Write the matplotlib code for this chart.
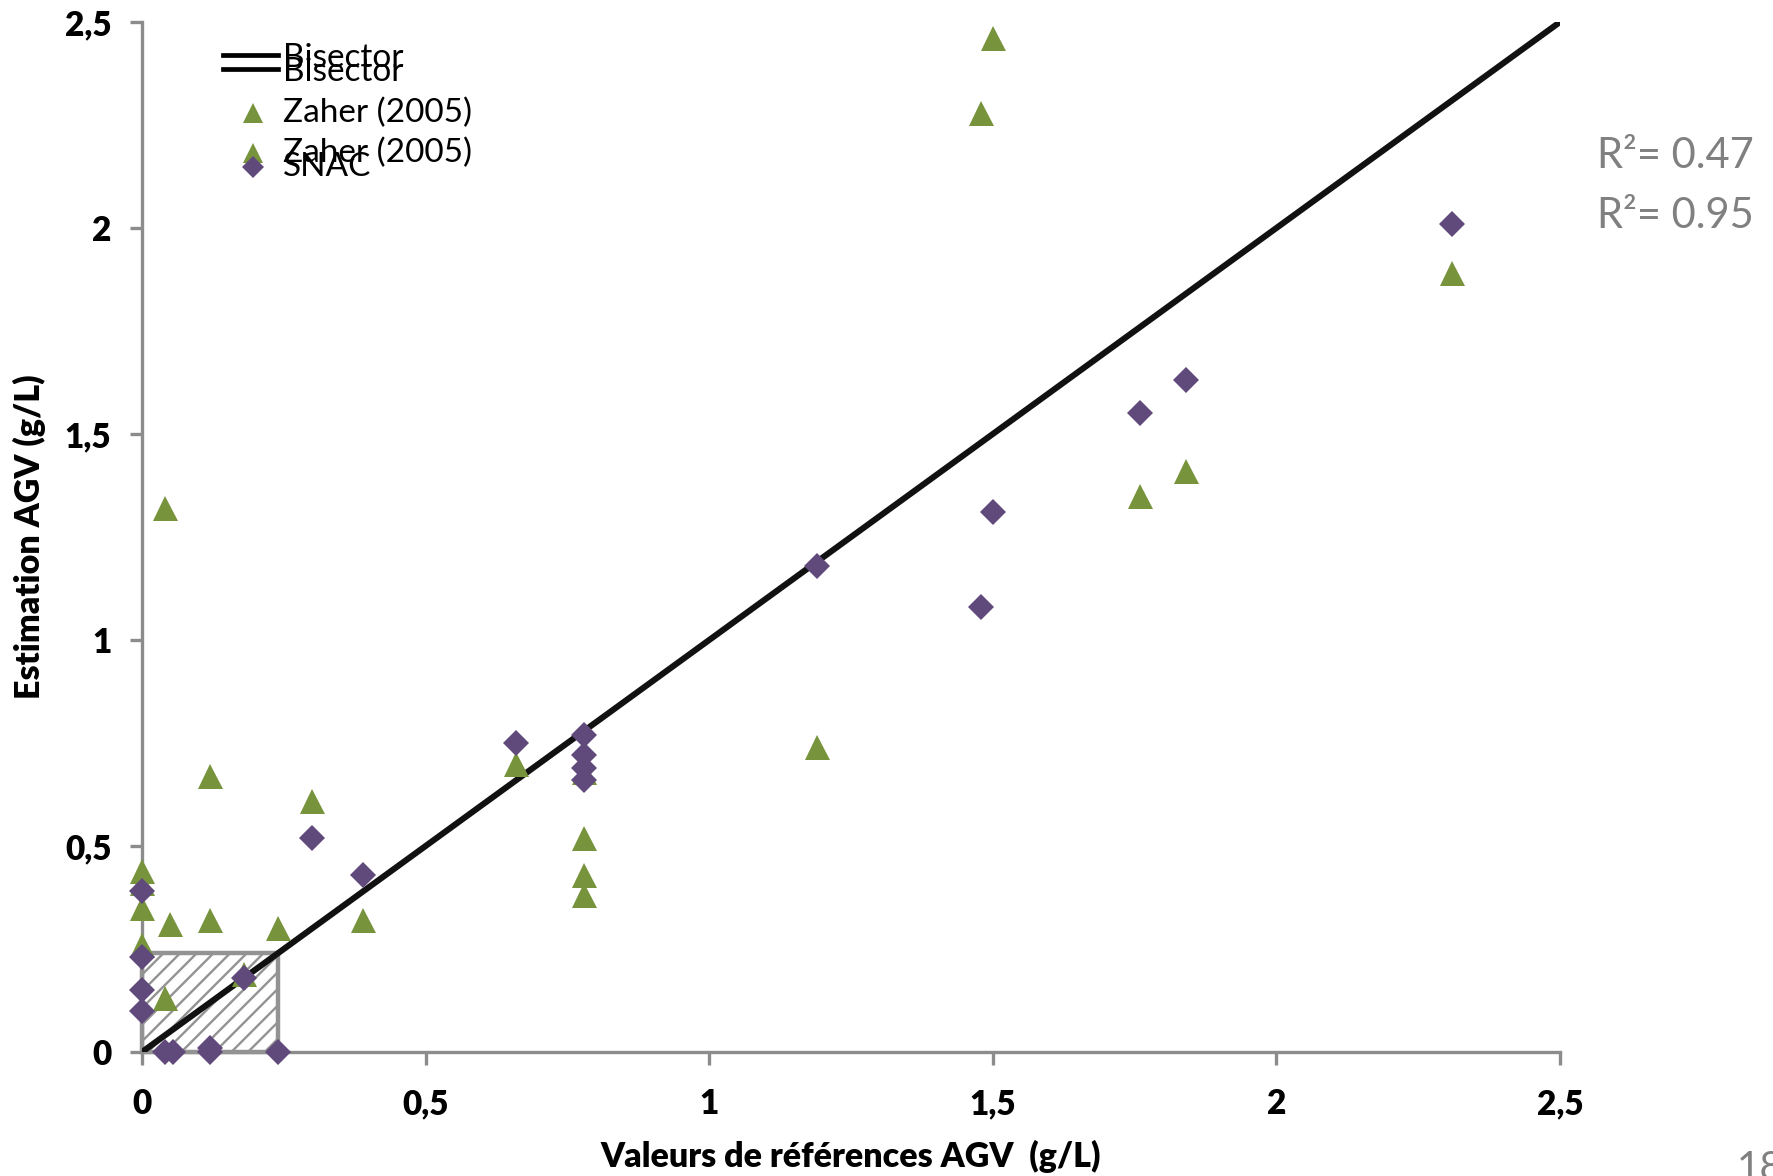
import numpy as np
import matplotlib
matplotlib.use("Agg")
import matplotlib.pyplot as plt
from matplotlib.lines import Line2D
from matplotlib.patches import Rectangle

# ── Data (g/L) ───────────────────────────────────────────────────────────────
zaher_ref = [1.50, 1.48, 2.31, 1.84, 1.76, 1.19, 0.04, 0.12, 0.30, 0.66,
             0.78, 0.78, 0.78, 0.78, 0.39, 0.12, 0.05, 0.24, 0.00, 0.00,
             0.00, 0.00, 0.04, 0.18]
zaher_est = [2.46, 2.28, 1.89, 1.41, 1.35, 0.74, 1.32, 0.67, 0.61, 0.70,
             0.68, 0.52, 0.43, 0.38, 0.32, 0.32, 0.31, 0.30, 0.44, 0.41,
             0.35, 0.26, 0.13, 0.19]

snac_ref = [2.31, 1.84, 1.76, 1.50, 1.48, 1.19, 0.66, 0.78, 0.78, 0.78,
            0.78, 0.30, 0.39, 0.00, 0.00, 0.00, 0.00, 0.18, 0.04, 0.055,
            0.12, 0.12, 0.24]
snac_est = [2.01, 1.63, 1.55, 1.31, 1.08, 1.18, 0.75, 0.77, 0.72, 0.69,
            0.66, 0.52, 0.43, 0.39, 0.23, 0.15, 0.10, 0.18, 0.00, 0.00,
            0.00, 0.01, 0.00]

bisector = [0.0, 2.5]
zone_limit = 0.24            # hatched low-concentration zone
ticks = [0, 0.5, 1, 1.5, 2, 2.5]
tick_labels = ["0", "0,5", "1", "1,5", "2", "2,5"]
r2_labels = ["R\u00b2= 0.47", "R\u00b2= 0.95"]

GREEN = "#77933C"
PURPLE = "#604A7B"
AXGRAY = "#8C8C8C"

plt.rcParams["font.family"] = ["Lato", "DejaVu Sans"]
plt.rcParams["hatch.linewidth"] = 1.7

W, H = 1773, 1176
fig = plt.figure(figsize=(W / 100, H / 100), dpi=100)
ax = fig.add_axes([142 / W, 1 - 1052 / H, 1418 / W, 1030 / H])

# hatched zone
ax.add_patch(Rectangle((0, 0), zone_limit, zone_limit, facecolor="none",
                       edgecolor="#939393", linewidth=3.2, hatch="//",
                       zorder=1, clip_on=False))

ax.plot(bisector, bisector, color="#111111", linewidth=4.4, zorder=2,
        solid_capstyle="butt")
ax.plot(zaher_ref, zaher_est, linestyle="none", marker="^", markersize=18,
        color=GREEN, markeredgewidth=0, zorder=3, clip_on=False)
ax.plot(snac_ref, snac_est, linestyle="none", marker="D", markersize=13,
        color=PURPLE, markeredgewidth=0, zorder=4, clip_on=False)

ax.set_xlim(0, 2.5)
ax.set_ylim(0, 2.5)
ax.set_xticks(ticks)
ax.set_yticks(ticks)
ax.set_xticklabels(tick_labels)
ax.set_yticklabels(tick_labels)
for s in ["top", "right"]:
    ax.spines[s].set_visible(False)
for s in ["left", "bottom"]:
    ax.spines[s].set_color(AXGRAY)
    ax.spines[s].set_linewidth(2.4)
    ax.spines[s].set_zorder(0.5)
ax.tick_params(direction="out", length=9, width=2.4, color=AXGRAY,
               labelsize=24, pad=13)
ax.tick_params(axis="x", pad=17)
for lab in ax.get_xticklabels() + ax.get_yticklabels():
    lab.set_fontweight("heavy")

ax.set_xlabel("Valeurs de références AGV  (g/L)", fontsize=24.5,
              fontweight="heavy")
ax.xaxis.set_label_coords(0.5, -0.085)
ax.set_ylabel("Estimation AGV (g/L)", fontsize=24.5, fontweight="heavy")
ax.yaxis.set_label_coords(-0.068, 0.5)

# ── legend (overlapping entries as in the source slide) ─────────────────────
def fx(px):
    return px / W

def fy(py):
    return 1 - py / H

for py in (55, 69):
    fig.add_artist(Line2D([fx(223), fx(278)], [fy(py), fy(py)],
                          color="black", linewidth=3.4))
for py in (58, 72):
    fig.text(fx(283), fy(py), "Bisector", fontsize=24, va="center",
             ha="left")
for py in (113, 153):
    fig.add_artist(Line2D([fx(253)], [fy(py)], marker="^", markersize=15,
                          color=GREEN, markeredgewidth=0, linestyle="none"))
    fig.text(fx(283), fy(py), "Zaher (2005)", fontsize=24, va="center",
             ha="left")
fig.add_artist(Line2D([fx(253)], [fy(167)], marker="D", markersize=11,
                      color=PURPLE, markeredgewidth=0, linestyle="none"))
fig.text(fx(283), fy(167), "SNAC", fontsize=24, va="center", ha="left")

# R² annotations and page number
for py, txt in zip((156, 216), r2_labels):
    fig.text(fx(1597), fy(py), txt, fontsize=30, color="#808080",
             va="center", ha="left")
fig.text(fx(1737), fy(1150), "18", fontsize=29, color="#808080",
         va="top", ha="left")

fig.savefig("out.png", dpi=100)
